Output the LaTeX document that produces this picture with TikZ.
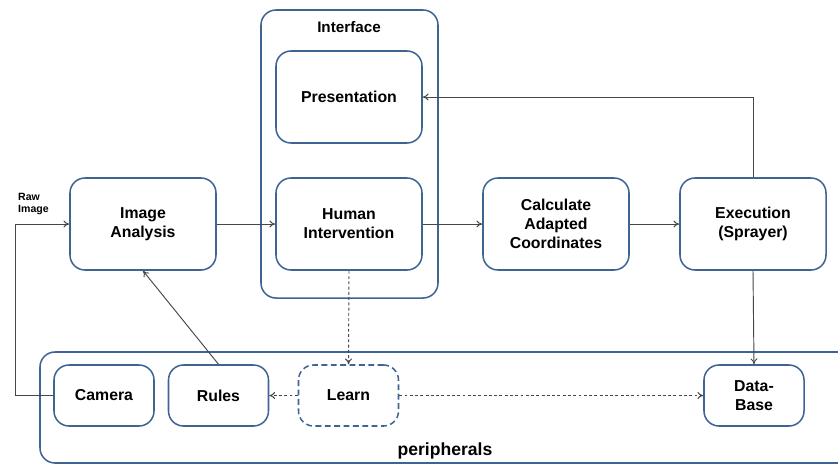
\documentclass[tikz,border=0pt]{standalone}
\usepackage{fontspec}
\setmainfont{Liberation Sans}
\usetikzlibrary{positioning,calc,arrows.meta}
\definecolor{bordbleu}{RGB}{62,100,150}
\definecolor{fleche}{RGB}{70,70,70}
\tikzset{
	boite/.style={draw=bordbleu,line width=1.3pt,rounded corners=0.45cm,fill=white,align=center,
		minimum width=4.38cm,minimum height=2.76cm,font=\fontsize{13.5}{16}\selectfont\bfseries},
	petite/.style={boite,minimum width=3cm,minimum height=1.83cm},
	cadre/.style={draw=bordbleu,line width=1.3pt,rounded corners=0.45cm},
	fl/.style={draw=fleche,line width=0.8pt,-{To[length=5pt,width=6pt]}},
	flpt/.style={fl,densely dashed,dash pattern=on 2.5pt off 2pt}
}

\begin{document}
\begin{tikzpicture}[x=0.03cm,y=-0.03cm]
	\useasboundingbox (0,0) rectangle (838,465);
	\clip (0,0) rectangle (838,465);
	
	%Cadres
	\node[cadre,minimum width=5.31cm,minimum height=8.64cm] (interface) at (349.5,154) {};
	\node[font=\fontsize{13}{15}\selectfont\bfseries] (titreint) at (349,27) {Interface};
	\draw[cadre] (40,352) rectangle (880,463);
	\node[font=\fontsize{15}{17}\selectfont\bfseries] (titreper) at (445,451) {peripherals};
	
	%Boites du haut
	\node[boite] (pres) at (349,97) {Presentation};
	\node[boite] (human) at (349,224) {Human\\Intervention};
	\node[boite] (analyse) at (143,224) {Image\\Analysis};
	\node[boite] (calcul) at (556,224) {Calculate\\Adapted\\Coordinates};
	\node[boite] (exec) at (753,224) {Execution\\(Sprayer)};
	
	%Boites du bas
	\node[petite] (camera) at (104,395.5) {Camera};
	\node[petite] (rules) at (218.5,395.5) {Rules};
	\node[petite,dashed,dash pattern=on 5pt off 3pt] (learn) at (348.5,395.5) {Learn};
	\node[petite] (db) at (754,395.5) {Data-\\Base};
	
	%Fleches
	\coordinate (coinbas) at (15,395.5);
	\coordinate (coinhaut) at (15,224);
	\draw[fl] (camera.west) -- (coinbas) -- (coinhaut) -- (analyse.west);
	\node[anchor=west,align=left,font=\fontsize{9}{10.5}\selectfont\bfseries,inner sep=0pt] (raw) at (18,204) {Raw\\Image};
	
	\draw[fl] (analyse) -- (human);
	\draw[fl] (human) -- (calcul);
	\draw[fl] (calcul) -- (exec);
	\coordinate (coude) at (exec.north |- pres.east);
	\draw[fl] (exec.north) -- (coude) -- (pres.east);
	\draw[fl] (exec.south) -- (db.north);
	\draw[fl] (rules.north) -- (analyse.south);
	
	\draw[flpt] (human.south) -- (learn.north);
	\draw[flpt] (learn.west) -- (rules.east);
	\draw[flpt] (learn.east) -- (db.west);
	
\end{tikzpicture}
\end{document}
